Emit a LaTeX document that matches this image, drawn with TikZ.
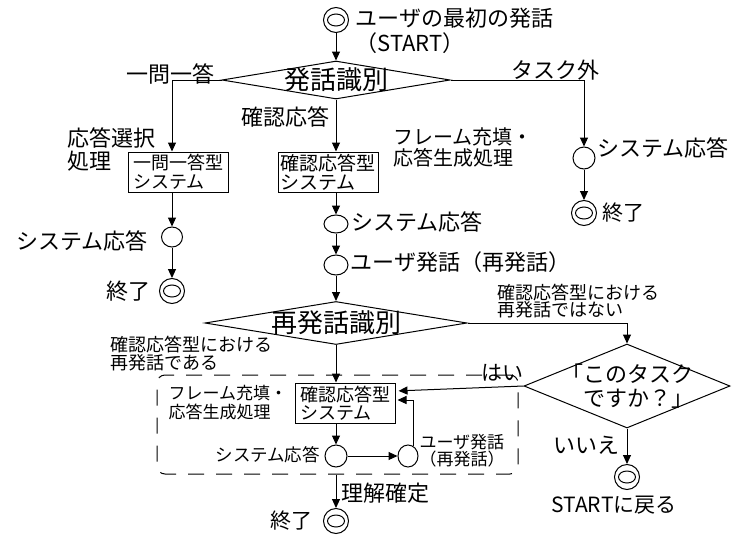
\documentclass[tikz,border=0pt]{standalone}
\usepackage{fontspec}
\newfontfamily\jp{Noto Sans CJK JP}
\usetikzlibrary{arrows.meta,shapes.geometric}
\newcommand\fs[2]{\jp\fontsize{#1}{#2}\selectfont}
\begin{document}
\begin{tikzpicture}[x=1pt,y=-1pt,line width=1pt,
 lbl/.style={inner sep=0,anchor=west,align=left},
 arr/.style={-{Triangle[length=9pt,width=8pt]}},
 sys/.style={draw,rectangle,minimum width=100pt,minimum height=40pt,inner sep=0,align=left},
 dec/.style={draw,diamond,inner sep=0},
 st/.style={draw,ellipse,inner sep=0},
 term/.style={draw,circle,minimum size=25pt,inner sep=0,
   path picture={\draw (path picture bounding box.center) ellipse (8.5pt and 6pt);}},
 ]
\useasboundingbox (0,0) rectangle (734,536);

% group
\node[draw,dash pattern=on 16pt off 12pt,rounded corners=8pt,minimum width=361pt,minimum height=99pt,inner sep=0] (grp) at (337.5,424.5) {};

% start
\node[term] (s0) at (336,20) {};
\node[lbl,font=\fs{22}{25}] (ts0) at (355,31) {ユーザの最初の発話\\（START）};

% decision 1
\node[dec,minimum width=228pt,minimum height=38pt,label={[font=\fs{26}{30}]center:発話識別}] (d1) at (336,80) {};
\node[lbl,font=\fs{22}{25}] (t11) at (126,74) {一問一答};
\node[lbl,font=\fs{22}{25}] (t12) at (241,117) {確認応答};
\node[lbl,font=\fs{22}{25}] (t13) at (511,70) {タスク外};

% left column
\node[sys,font=\fs{18}{19}] (b1) at (178,172) {一問一答型\\システム};
\node[lbl,font=\fs{22}{23}] (tb1) at (67,149) {応答選択\\処理};
\node[st,minimum width=21pt,minimum height=20pt] (l1) at (172,237) {};
\node[lbl,font=\fs{22}{25}] (tl1) at (16,241) {システム応答};
\node[term] (el) at (172,291) {};
\node[lbl,font=\fs{22}{25}] (tel) at (106,291) {終了};

% middle column
\node[sys,font=\fs{19}{19}] (b2) at (328,172) {確認応答型\\システム};
\node[lbl,font=\fs{20}{21}] (tb2) at (393,147) {フレーム充填・\\応答生成処理};
\node[st,minimum width=24pt,minimum height=18pt] (m1) at (336,224) {};
\node[lbl,font=\fs{22}{25}] (tm1) at (351,222) {システム応答};
\node[st,minimum width=24pt,minimum height=20pt] (m2) at (336,265) {};
\node[lbl,font=\fs{22}{25}] (tm2) at (350,262) {ユーザ発話（再発話）};

% right column
\node[st,minimum width=22pt,minimum height=22pt] (r1) at (584,158) {};
\node[lbl,font=\fs{22}{25}] (tr1) at (597,148) {システム応答};
\node[term] (er) at (584,213) {};
\node[lbl,font=\fs{21}{25}] (ter) at (602,213) {終了};

% decision 2
\node[dec,minimum width=262pt,minimum height=43pt,label={[font=\fs{26}{30}]center:再発話識別}] (d2) at (336,323) {};
\node[lbl,font=\fs{18}{17}] (t21) at (497,301) {確認応答型における\\再発話ではない};
\node[lbl,font=\fs{18}{18}] (t22) at (110,354) {確認応答型における\\再発話である};

% decision 3
\node[dec,minimum width=206pt,minimum height=84pt,label={[font=\fs{22}{24},align=left]center:「このタスク\\　ですか？」}] (d3) at (627,386) {};
\node[lbl,font=\fs{21}{25}] (t31) at (481,373) {はい};
\node[lbl,font=\fs{22}{25}] (t32) at (553,445) {いいえ};
\node[term] (e3) at (627,477) {};
\node[lbl,font=\fs{21}{25}] (te3) at (551,505) {STARTに戻る};

% inside group
\node[sys,font=\fs{18}{18}] (b3) at (345,403) {確認応答型\\システム};
\node[lbl,font=\fs{17}{19}] (tb3) at (168,403) {フレーム充填・\\応答生成処理};
\node[st,minimum width=22pt,minimum height=22pt] (c1) at (336,456) {};
\node[lbl,font=\fs{17.5}{20}] (tc1) at (215,455) {システム応答};
\node[st,minimum width=20pt,minimum height=22pt] (c2) at (408,456) {};
\node[lbl,font=\fs{17}{17}] (tc2) at (419,451) {ユーザ発話\\（再発話）};

% end
\node[term] (eb) at (336,521) {};
\node[lbl,font=\fs{21}{25}] (teb) at (270,521) {終了};
\node[lbl,font=\fs{22}{25}] (tgrp) at (341,493) {理解確定};

% connectors
\draw[arr] (s0) -- (d1.north);
\draw[arr] (d1.west) -| ([xshift=-6pt]b1.north);
\draw[arr] (d1.south) -- (d1.south |- b2.north);
\draw[arr] (d1.east) -| (r1.north);
\draw[arr] (r1) -- (er);
\draw[arr] ([xshift=-6pt]b1.south) -- (l1);
\draw[arr] (l1) -- (el);
\draw[arr] (b2.south -| m1) -- (m1);
\draw[arr] (m1) -- (m2);
\draw[arr] (m2) -- (d2.north);
\draw[arr] (d2.east) -| (d3.north);
\draw[arr] (d2.south) -- (d2.south |- b3.north);
\draw[arr,shorten >=3pt] (d3.west) -- ([yshift=12pt]b3.east);
\draw[arr] (b3.south -| c1) -- (c1);
\draw[arr] (c1) -- (c2);
\draw[arr,shorten >=2pt] (c2.60) |- ([yshift=3pt]b3.east);
\draw[arr] (grp.south -| eb) -- (eb);
\draw[arr] (d3.south) -- (e3);
\end{tikzpicture}
\end{document}
